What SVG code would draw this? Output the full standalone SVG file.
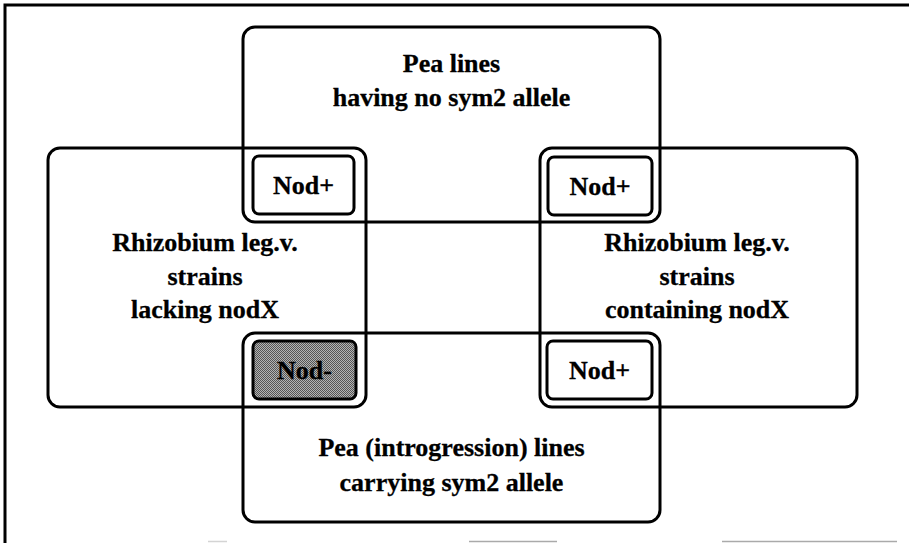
<svg xmlns="http://www.w3.org/2000/svg" width="909" height="543" viewBox="0 0 909 543">
<defs>
<pattern id="dither" width="2" height="2" patternUnits="userSpaceOnUse">
<rect width="2" height="2" fill="#b4b4b4"/>
<rect width="1" height="1" fill="#555"/>
<rect x="1" y="1" width="1" height="1" fill="#555"/>
</pattern>
<style>
.set{fill:none;stroke:#000;stroke-width:3}
.nod{fill:#fff;stroke:#000;stroke-width:3}
.neg{fill:url(#dither);stroke:#000;stroke-width:3}
text{font-family:"Liberation Serif","Times New Roman",serif;font-weight:bold;font-size:26px;fill:#000;stroke:#000;stroke-width:0.3;text-anchor:middle}
.frame{stroke:#000;stroke-width:3;fill:none}
.scan{stroke:#aaa;stroke-width:1.5}
</style>
</defs>
<rect width="909" height="543" fill="#fff"/>
<g id="frame">
<path class="frame" d="M5,543 V5 H909"/>
<line class="scan" x1="208" y1="541.5" x2="227" y2="541.5" stroke-opacity="0.5"/>
<line class="scan" x1="469" y1="541.5" x2="557" y2="541.5"/>
<line class="scan" x1="722" y1="541.5" x2="897" y2="541.5"/>
</g>
<g id="pea-no-sym2">
<rect class="set" x="243" y="27" width="417" height="195" rx="12"/>
<text x="451.5" y="72">Pea lines</text>
<text x="451.5" y="106">having no sym2 allele</text>
</g>
<g id="rhizobium-lacking">
<rect class="set" x="48" y="148" width="318" height="259" rx="12"/>
<text x="205" y="251">Rhizobium leg.v.</text>
<text x="205" y="285">strains</text>
<text x="205" y="318">lacking nodX</text>
</g>
<g id="rhizobium-containing">
<rect class="set" x="540" y="148" width="317" height="259" rx="12"/>
<text x="697" y="251">Rhizobium leg.v.</text>
<text x="697" y="285">strains</text>
<text x="697" y="318">containing nodX</text>
</g>
<g id="pea-sym2">
<rect class="set" x="243" y="333" width="417" height="189" rx="12"/>
<text x="451.5" y="456">Pea (introgression) lines</text>
<text x="451.5" y="491">carrying sym2 allele</text>
</g>
<g id="nod-top-left">
<rect class="nod" x="253" y="156" width="101" height="58" rx="6"/>
<text x="303.5" y="194">Nod+</text>
</g>
<g id="nod-top-right">
<rect class="nod" x="548" y="157" width="104" height="58" rx="6"/>
<text x="600" y="195">Nod+</text>
</g>
<g id="nod-bottom-left">
<rect class="neg" x="253" y="341" width="103" height="58" rx="6"/>
<text x="304.5" y="379">Nod-</text>
</g>
<g id="nod-bottom-right">
<rect class="nod" x="547" y="341" width="105" height="58" rx="6"/>
<text x="599.5" y="379">Nod+</text>
</g>
</svg>
